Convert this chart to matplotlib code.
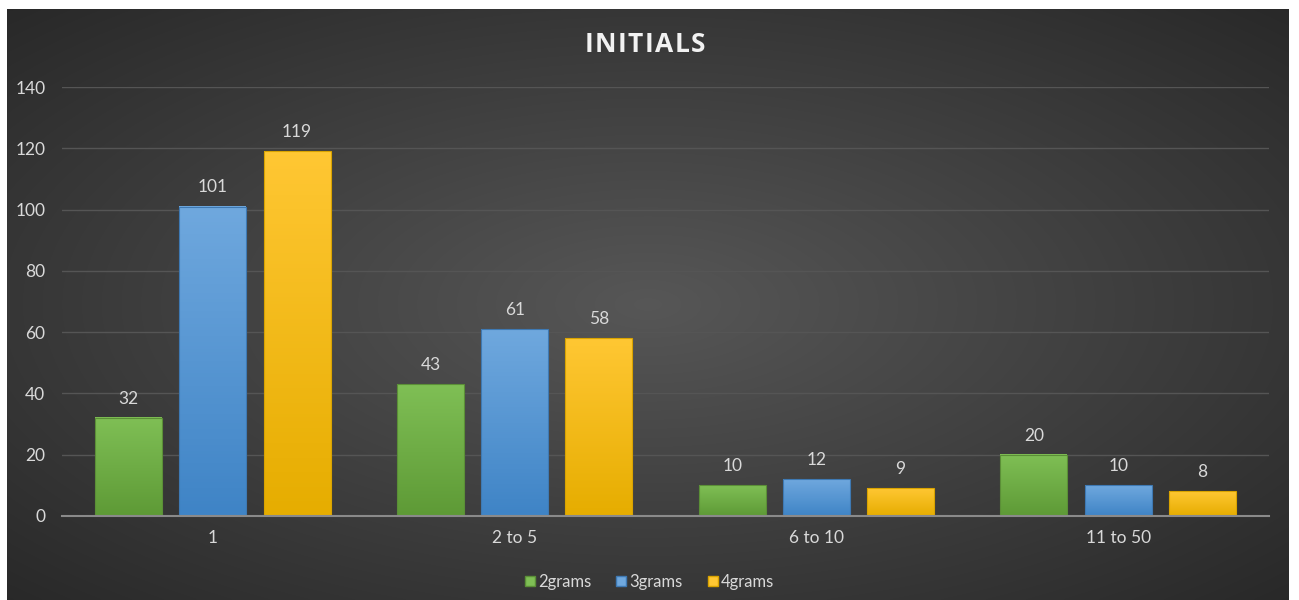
import numpy as np
import matplotlib.pyplot as plt
from matplotlib.colors import LinearSegmentedColormap
from matplotlib.patches import Patch

plt.rcParams['font.family'] = ['Lato', 'DejaVu Sans']

# ============================
# Data
# ============================

categories = ["1", "2 to 5", "6 to 10", "11 to 50"]
series_names = ["2grams", "3grams", "4grams"]
grams2 = [32, 43, 10, 20]
grams3 = [101, 61, 12, 10]
grams4 = [119, 58, 9, 8]

values = [grams2, grams3, grams4]
top_colors = ["#7fbf55", "#6fa8de", "#ffc733"]
bottom_colors = ["#5e9a36", "#3f84c6", "#e6ad00"]
edge_colors = ["#5b8f37", "#3e79b3", "#d9a300"]

text_color = "#d9d9d9"
title = "INITIALS"

# ============================
# Figure + background
# ============================

fig = plt.figure(figsize=(12.99, 6), dpi=100, facecolor="white")

bg = fig.add_axes([7 / 1299, 0, (1289 - 7) / 1299, (600 - 9) / 600])
bg.set_axis_off()
yy, xx = np.mgrid[-1:1:300j, -1:1:600j]
r = np.sqrt(xx ** 2 + yy ** 2) / np.sqrt(2)
shade = 0.34 - 0.18 * r
bg_img = np.dstack([shade, shade, shade])
bg.imshow(bg_img, aspect="auto", extent=[0, 1, 0, 1], interpolation="bilinear")
bg.set_xlim(0, 1)
bg.set_ylim(0, 1)

ax = fig.add_axes([62 / 1299, (600 - 516) / 600, (1269 - 62) / 1299, (516 - 87) / 600])
ax.patch.set_alpha(0)

x = np.arange(len(categories))
width = 0.222
step = 0.279

grad = np.linspace(0, 1, 100).reshape(-1, 1)

for i, vals in enumerate(values):
    cmap = LinearSegmentedColormap.from_list("g", [bottom_colors[i], top_colors[i]])
    for xi, v in zip(x, vals):
        x0 = xi + (i - 1) * step - width / 2
        ax.imshow(grad, cmap=cmap, aspect="auto", origin="lower",
                  extent=[x0, x0 + width, 0, v], zorder=3)
        ax.add_patch(plt.Rectangle((x0, 0), width, v, fill=False,
                                   edgecolor=edge_colors[i], lw=0.8, zorder=4))
        ax.annotate(str(v), (xi + (i - 1) * step, v), xytext=(0, 8),
                    textcoords="offset points", ha="center", va="bottom",
                    color=text_color, fontsize=12.5)

ax.set_xlim(-0.5, 3.5)
ax.set_ylim(0, 140)
ax.set_yticks(np.arange(0, 141, 20))
ax.set_xticks(x)
ax.set_xticklabels(categories)

ax.grid(axis="y", color="#555555", lw=1, zorder=0)
for s in ["top", "right", "left"]:
    ax.spines[s].set_visible(False)
ax.spines["bottom"].set_color("#8a8a8a")
ax.spines["bottom"].set_linewidth(1.5)
ax.spines["bottom"].set_zorder(5)

ax.tick_params(axis="both", length=0, colors=text_color, labelsize=12.5)
ax.tick_params(axis="y", pad=12)
ax.tick_params(axis="x", pad=10)

# Title with letter spacing, placed letter by letter
renderer = fig.canvas.get_renderer()
letters = []
widths = []
for ch in title:
    t = fig.text(0, 1 - 45 / 600, ch, ha="left", va="center", color="#f2f2f2",
                 fontsize=19, fontweight="bold", family=['Open Sans', 'DejaVu Sans'])
    letters.append(t)
    widths.append(t.get_window_extent(renderer).width)
gap = 1.5
total = sum(widths) + gap * (len(title) - 1)
xpos = 645 - total / 2
for t, w in zip(letters, widths):
    t.set_x(xpos / 1299)
    xpos += w + gap

handles = [Patch(facecolor=c, edgecolor=e) for c, e in zip(top_colors, edge_colors)]
fig.legend(handles, series_names, loc="center", bbox_to_anchor=(0.5, 1 - 582 / 600),
           ncol=3, frameon=False, labelcolor=text_color, fontsize=12,
           handlelength=0.6, handleheight=0.6, handletextpad=0.2, columnspacing=1.5)

plt.savefig("out.png", dpi=100, facecolor="white")
